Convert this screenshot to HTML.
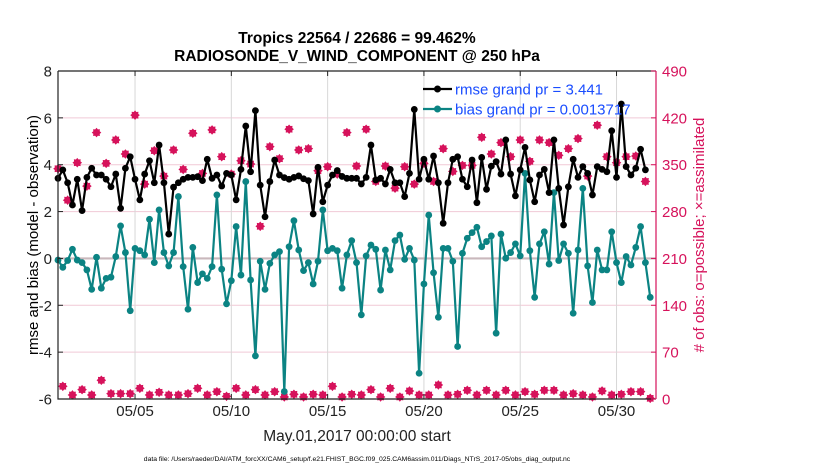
<!DOCTYPE html>
<html><head><meta charset="utf-8"><style>
body{margin:0;background:#fff;}
svg{display:block;font-family:"Liberation Sans",sans-serif;}
</style></head><body>
<svg id="chart" width="830" height="470" viewBox="0 0 830 470">
<rect width="830" height="470" fill="#fff"/>
<text x="357" y="43" text-anchor="middle" font-size="15.5" font-weight="bold">Tropics 22564 / 22686 = 99.462%</text>
<text x="357" y="61" text-anchor="middle" font-size="15.5" font-weight="bold">RADIOSONDE_V_WIND_COMPONENT @ 250 hPa</text>
<g id="grid"></g>
<g id="marks"></g>
<g id="axes"></g>
<g id="legend">
<line x1="423" y1="89" x2="452" y2="89" stroke="#000" stroke-width="2.2"/>
<circle cx="437.5" cy="89" r="3.5" fill="#000"/>
<text x="455" y="94.5" font-size="15" fill="#1a4dff">rmse grand pr = 3.441</text>
<line x1="423" y1="109" x2="452" y2="109" stroke="#0b8383" stroke-width="2.2"/>
<circle cx="437.5" cy="109" r="3.5" fill="#0b8383"/>
<text x="455" y="114.5" font-size="15" fill="#1a4dff">bias grand pr = 0.0013717</text>
</g>
<text transform="translate(38,235) rotate(-90)" text-anchor="middle" font-size="15">rmse and bias (model - observation)</text>
<text transform="translate(704,235) rotate(-90)" text-anchor="middle" font-size="15" fill="#d6125b"># of obs: o=possible; ×=assimilated</text>
<text x="357" y="441" text-anchor="middle" font-size="15.5" fill="#222">May.01,2017 00:00:00 start</text>
<text x="357" y="461" text-anchor="middle" font-size="6.8" fill="#000">data file: /Users/raeder/DAI/ATM_forcXX/CAM6_setup/f.e21.FHIST_BGC.f09_025.CAM6assim.011/Diags_NTrS_2017-05/obs_diag_output.nc</text>
</svg>
<script>
const xTicks = [5,10,15,20,25,30];
const xTickLabels = ["05/05","05/10","05/15","05/20","05/25","05/30"];
const yTicks = [-6,-4,-2,0,2,4,6,8];
const yRightTicks = [0,70,140,210,280,350,420,490];
const rmse = [3.42,3.78,3.23,2.28,3.38,2.04,3.46,3.85,3.56,3.56,3.38,3.06,3.60,2.14,3.85,4.34,3.38,2.50,3.60,4.17,3.23,4.84,3.23,1.04,3.04,3.23,3.38,3.46,3.46,3.49,3.32,4.23,3.42,3.56,3.09,3.63,3.56,2.50,3.80,5.65,3.70,6.31,
3.13,1.78,3.28,4.20,3.56,3.45,3.38,3.46,3.52,3.40,3.32,1.90,3.89,2.42,3.13,3.56,3.75,3.50,3.42,3.42,3.42,3.18,3.46,4.84,3.35,3.42,3.18,3.80,3.23,3.23,2.64,3.63,6.36,3.38,4.23,3.38,4.37,3.23,1.50,3.23,4.23,
4.34,3.38,3.06,4.20,2.38,4.31,2.95,3.94,4.13,3.60,5.06,3.60,2.67,3.78,4.74,3.35,2.42,3.56,3.80,2.81,5.06,2.99,1.43,3.06,4.23,3.46,3.92,3.63,2.71,3.92,3.80,3.70,5.45,3.46,6.59,3.92,3.56,3.85,4.66,3.78,null];
const bias = [-0.07,-0.38,-0.09,0.39,-0.07,-0.18,-0.49,-1.32,0.05,-1.27,-0.85,-0.80,0.08,1.39,0.25,-2.23,0.43,0.33,0.15,1.67,-0.18,2.07,0.25,-0.32,0.25,2.64,-0.35,-2.17,0.47,-1.03,-0.66,-0.85,-0.35,2.71,-0.46,-1.94,-0.95,1.36,-0.71,3.28,-0.92,-4.16,
-0.12,-1.32,-0.21,0.15,0.29,-5.68,0.50,1.61,0.36,-0.52,-0.18,-1.09,-0.12,2.07,0.33,0.43,0.33,-1.27,0.15,0.76,-0.18,-2.41,0.11,0.57,0.39,-1.35,0.36,-0.49,0.76,1.00,-0.04,0.43,-0.07,-4.90,-1.09,1.85,-0.61,-2.51,0.43,0.43,-0.12,-3.76,
0.22,0.86,1.10,1.33,0.50,0.72,0.96,-3.19,1.04,0.01,0.25,0.62,0.11,3.63,0.33,-1.66,0.62,1.14,-0.24,2.81,-0.09,0.62,0.22,-2.34,0.36,2.99,-0.32,-1.88,0.36,-0.49,-0.49,1.14,-0.18,-1.03,0.08,-0.28,0.47,1.36,-0.18,-1.66];
const countsPossible = [344,19,297,6,353,14,318,6,398,28,352,8,387,8,366,8,424,16,321,6,371,10,333,6,372,6,343,8,397,16,337,6,402,11,362,4,336,16,356,6,351,14,
258,6,377,11,359,3,403,7,372,3,374,7,341,6,347,19,336,3,398,7,348,6,403,14,325,3,348,16,315,3,347,12,321,6,352,6,325,21,374,6,340,7,
349,13,349,6,391,13,366,6,383,13,362,6,387,11,355,7,387,13,383,13,364,6,374,8,389,6,333,3,409,12,362,6,353,7,362,11,363,11,325,1];
const countsAssim = countsPossible.slice();

const NS="http://www.w3.org/2000/svg";
const L=58,R=656,T=71,B=399, X0=1.0, X1=32.05;
const xs = d => L+(d-X0)/(X1-X0)*(R-L);
const ys = v => B-(v+6)/14*(B-T);
const yr = c => B-c/490*(B-T);
const tOf = i => 1+i*0.25;
function mk(tag,attrs,parent){const e=document.createElementNS(NS,tag);for(const k in attrs)e.setAttribute(k,attrs[k]);parent.appendChild(e);return e;}
const grid=document.getElementById('grid'), marks=document.getElementById('marks'), axes=document.getElementById('axes');

yTicks.forEach(v=>{ if(v===-6||v===8||v===0) return;
 const l=mk('line',{x1:L,x2:R,y1:ys(v),y2:ys(v),stroke:'#f1c9d6','stroke-width':1},grid);
 
 
});
xTicks.forEach(d=>{
 const l=mk('line',{x1:xs(d),x2:xs(d),y1:T,y2:B,stroke:'#d8d8d8','stroke-width':1},grid);
 
 
});
const z=mk('line',{x1:L,x2:R,y1:ys(0),y2:ys(0),stroke:'#c9b8bc','stroke-width':2.2},grid);



function starPath(cx,cy,r){let p='';for(let k=0;k<16;k++){const a=k*Math.PI/8;const rr=(k%2===0)?r:r*0.72;p+=(k?'L':'M')+(cx+rr*Math.cos(a)).toFixed(2)+' '+(cy+rr*Math.sin(a)).toFixed(2);}return p+'Z';}
countsPossible.forEach((c,i)=>{
 const o=mk('circle',{cx:xs(tOf(i)),cy:yr(c),r:2.6,fill:'none',stroke:'#d6125b','stroke-width':1.2},marks);
 
 
});
countsAssim.forEach((c,i)=>{
 const s=mk('path',{d:starPath(xs(tOf(i)),yr(c),4.8),fill:'#d6125b'},marks);
 
 
});
function series(vals,color,name){
 let d='',pen=false;
 vals.forEach((v,i)=>{ if(v===null){pen=false;return;} d+=(pen?'L':'M')+xs(tOf(i)).toFixed(2)+' '+ys(v).toFixed(2); pen=true;});
 const p=mk('path',{d:d,fill:'none',stroke:color,'stroke-width':2.2,'stroke-linejoin':'round'},marks);
 
 
 vals.forEach((v,i)=>{ if(v===null)return;
  const c=mk('circle',{cx:xs(tOf(i)),cy:ys(v),r:3.4,fill:color},marks);
  
  
 });
}
series(bias,'#0b8383','bias');
series(rmse,'#000000','rmse');

const fr=mk('path',{d:`M${L} ${T}H${R}M${L} ${T}V${B}H${R}`,fill:'none',stroke:'#222','stroke-width':1.2},axes);


const ra=mk('line',{x1:R,x2:R,y1:T,y2:B,stroke:'#d6125b','stroke-width':1.2},axes);


yTicks.forEach(v=>{
 const t=mk('line',{x1:L,x2:L+5,y1:ys(v),y2:ys(v),stroke:'#222'},axes);
 
 
 const tx=mk('text',{x:L-6,y:ys(v)+5.5,'text-anchor':'end','font-size':15,fill:'#222'},axes);
 tx.textContent=v;
 
 
});
yRightTicks.forEach(c=>{
 const t=mk('line',{x1:R-5,x2:R,y1:yr(c),y2:yr(c),stroke:'#d6125b'},axes);
 
 
 const tx=mk('text',{x:R+6,y:yr(c)+5.5,'font-size':15,fill:'#d6125b'},axes);
 tx.textContent=c;
 
 
});
xTicks.forEach((d,k)=>{
 const t=mk('line',{x1:xs(d),x2:xs(d),y1:B-5,y2:B,stroke:'#222'},axes);
 
 
 const t2=mk('line',{x1:xs(d),x2:xs(d),y1:T,y2:T+5,stroke:'#222'},axes);
 
 
 const tx=mk('text',{x:xs(d),y:416,'text-anchor':'middle','font-size':15,fill:'#222'},axes);
 tx.textContent=xTickLabels[k];
 
 
});
</script>
</body></html>
